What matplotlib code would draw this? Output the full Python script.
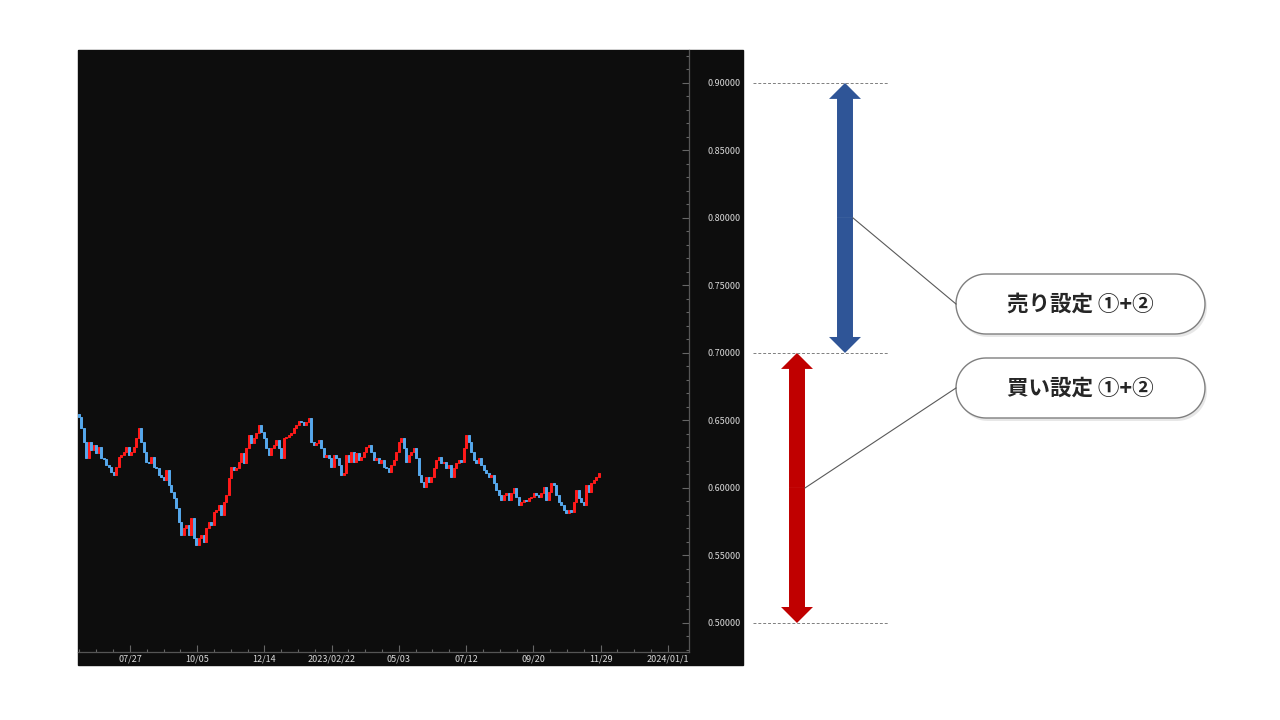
import numpy as np
import matplotlib
matplotlib.use("Agg")
import matplotlib.pyplot as plt
import matplotlib.dates as mdates
import matplotlib.transforms as mtransforms
from matplotlib.patches import FancyArrowPatch, Polygon, Rectangle, ArrowStyle
from matplotlib.ticker import MultipleLocator, FixedLocator, FixedFormatter
from datetime import datetime, timedelta

plt.rcParams['font.family'] = ['Noto Sans CJK JP', 'DejaVu Sans']

# ── Data (closes, evenly spaced in time) ──
first_date = datetime(2022, 6, 4)
last_date = datetime(2023, 11, 27)

closes = [
    0.6526, 0.6444, 0.6341, 0.6222, 0.6341, 0.6281, 0.6319, 0.6259, 0.6304, 0.6222,
    0.6215, 0.6170, 0.6156, 0.6119, 0.6096, 0.6156, 0.6230, 0.6244, 0.6267, 0.6304,
    0.6244, 0.6267, 0.6304, 0.6370, 0.6444, 0.6341, 0.6267, 0.6193, 0.6185, 0.6230,
    0.6156, 0.6148, 0.6096, 0.6081, 0.6059, 0.6133, 0.6022, 0.5970, 0.5926, 0.5852,
    0.5748, 0.5652, 0.5704, 0.5726, 0.5652, 0.5778, 0.5630, 0.5578, 0.5630, 0.5652,
    0.5600, 0.5704, 0.5748, 0.5726, 0.5822, 0.5837, 0.5874, 0.5800, 0.5896, 0.5948,
    0.6074, 0.6156, 0.6133, 0.6148, 0.6193, 0.6259, 0.6185, 0.6296, 0.6393, 0.6333,
    0.6370, 0.6407, 0.6467, 0.6415, 0.6370, 0.6296, 0.6244, 0.6296, 0.6319, 0.6356,
    0.6296, 0.6222, 0.6370, 0.6378, 0.6393, 0.6407, 0.6444, 0.6467, 0.6496, 0.6489,
    0.6467, 0.6489, 0.6519, 0.6341, 0.6319, 0.6333, 0.6356, 0.6296, 0.6230, 0.6244,
    0.6222, 0.6156, 0.6244,
    0.6222, 0.6170, 0.6096, 0.6111, 0.6244, 0.6193, 0.6267, 0.6193, 0.6259, 0.6207,
    0.6230, 0.6267, 0.6304, 0.6319, 0.6267, 0.6207, 0.6222, 0.6185, 0.6207, 0.6156,
    0.6150, 0.6119, 0.6170, 0.6207, 0.6267, 0.6341, 0.6370, 0.6296, 0.6193, 0.6244,
    0.6267, 0.6296, 0.6222, 0.6096, 0.6044, 0.6007, 0.6081, 0.6044, 0.6081, 0.6148,
    0.6207, 0.6230, 0.6185, 0.6193, 0.6148, 0.6170, 0.6081, 0.6148, 0.6185, 0.6207,
    0.6193, 0.6296, 0.6393,
    0.6341, 0.6267, 0.6207, 0.6185, 0.6222, 0.6170, 0.6133, 0.6111, 0.6081, 0.6096,
    0.6037, 0.5985, 0.5948, 0.5911, 0.5948, 0.5963, 0.5911, 0.5963, 0.6000, 0.5933,
    0.5874, 0.5896, 0.5911, 0.5905, 0.5926, 0.5933, 0.5963, 0.5948, 0.5933, 0.5963,
    0.6007, 0.5911, 0.5970, 0.6037, 0.6022, 0.5948, 0.5896, 0.5874, 0.5837, 0.5815,
    0.5837, 0.5822, 0.5896, 0.5985, 0.5926, 0.5896, 0.5874, 0.6022, 0.5970, 0.6037,
    0.6059, 0.6081, 0.6111,
]

tick_dates = [datetime(2022, 7, 27) + timedelta(days=70 * k) for k in range(9)]
tick_labels = ["07/27", "10/05", "12/14", "2023/02/22", "05/03",
               "07/12", "09/20", "11/29", "2024/01/1"]

levels = [0.90, 0.70, 0.50]   # sell range 0.70-0.90, buy range 0.50-0.70
callouts = ["売り設定 ①+②", "買い設定 ①+②"]

# ── Figure ────────────────────────────────────────────────
W, H = 1280, 720
fig = plt.figure(figsize=(12.8, 7.2), dpi=100)
fig.patch.set_facecolor("white")

dark = "#0d0d0d"
fig.patches.append(Rectangle((78 / W, 1 - 665 / H), 665 / W, 615 / H,
                             transform=fig.transFigure, color=dark, zorder=-5))

ax = fig.add_axes([78 / W, 1 - 652 / H, (689 - 78) / W, (652 - 50) / H])
ax.set_facecolor(dark)

# ── Candles ──────────────────────────────────────────────
xs = np.linspace(mdates.date2num(first_date), mdates.date2num(last_date), len(closes))
c = np.array(closes)
o = np.r_[c[0] + 0.002, c[:-1]]
up = c >= o
body = np.where(np.abs(c - o) < 0.0006, np.where(up, 0.0006, -0.0006), c - o)
cols = np.where(up, "#ff1a1a", "#56a8ec")
step = xs[1] - xs[0]
ax.bar(xs, body, bottom=o, width=step * 0.8, color=cols, edgecolor=cols,
       linewidth=0.7)

# ── Axes styling ─────────────────────────────────────────
ax.set_xlim(mdates.date2num(datetime(2022, 6, 3)), mdates.date2num(datetime(2024, 2, 29)))
ax.set_ylim(0.4785, 0.9244)

for s in ["top", "left"]:
    ax.spines[s].set_visible(False)
for s in ["bottom", "right"]:
    ax.spines[s].set_color("#555555")
    ax.spines[s].set_linewidth(0.9)

ax.yaxis.tick_right()
ax.yaxis.set_major_locator(MultipleLocator(0.05))
ax.yaxis.set_minor_locator(MultipleLocator(0.01))
ax.yaxis.set_major_formatter(plt.FormatStrFormatter("%.5f"))

xt = mdates.date2num(tick_dates)
ax.xaxis.set_major_locator(FixedLocator(xt))
ax.xaxis.set_major_formatter(FixedFormatter(tick_labels))
minor = np.arange(xt[0] - 70, xt[-1] + 1, 17.5)
ax.xaxis.set_minor_locator(FixedLocator(minor))

ax.tick_params(axis="both", which="both", direction="in", colors="#666666", width=0.8)
ax.tick_params(axis="both", which="major", length=5)
ax.tick_params(axis="both", which="minor", length=2.5)
ax.tick_params(axis="y", which="major", labelsize=6.5, labelcolor="#d9d9d9", pad=13)
ax.tick_params(axis="x", which="major", labelsize=6.5, labelcolor="#d9d9d9", pad=2)

# ── Overlay (pixel coordinates) for annotations ───────────
ov = fig.add_axes([0, 0, 1, 1], facecolor="none")
ov.set_xlim(0, W)
ov.set_ylim(H, 0)
ov.axis("off")

blend = mtransforms.blended_transform_factory(ov.transData, ax.transData)

for lv in levels:
    ov.plot([753, 888], [lv, lv], transform=blend, color="#7f7f7f",
            lw=0.7, ls=(0, (3, 2)), clip_on=False)

style = ArrowStyle.Simple(head_length=11.5, head_width=23, tail_width=11.5)


def double_arrow(x, lo, hi, color):
    mid = (lo + hi) / 2
    for end in (lo, hi):
        ov.add_patch(FancyArrowPatch((x, mid), (x, end), arrowstyle=style,
                                     transform=blend, color=color, lw=0,
                                     shrinkA=0, shrinkB=0, mutation_scale=1,
                                     clip_on=False))
    return mid


mid_sell = double_arrow(845, levels[1], levels[0], "#2f5597")
mid_buy = double_arrow(797, levels[2], levels[1], "#c00000")


def pill(x, y, w, h, **kw):
    r = h / 2
    t = np.linspace(-np.pi / 2, np.pi / 2, 40)
    right = np.c_[x + w - r + r * np.cos(t), y + r + r * np.sin(t)]
    left = np.c_[x + r - r * np.cos(t), y + r - r * np.sin(t)]
    return Polygon(np.r_[right, left], closed=True, **kw)


# ── Callouts ─────────────────────────────────────────────
boxes = [(956, 274), (956, 358)]
bw, bh = 249, 60
for (bx, by), txt, (ax_x, mid) in zip(boxes, callouts,
                                      [(853, mid_sell), (805, mid_buy)]):
    # leader line: arrow middle -> left edge of the pill
    y_px = H - ax.transData.transform((0, mid))[1]
    ov.plot([ax_x, bx], [y_px, by + bh / 2], color="#595959", lw=0.8)
    ov.add_patch(pill(bx + 2, by + 3, bw, bh, fc="#d8d8d8", ec="none", alpha=0.6))
    ov.add_patch(pill(bx, by, bw, bh, fc="white", ec="#7f7f7f", lw=1.0))
    ov.text(bx + bw / 2, by + bh / 2, txt, ha="center", va="center",
            fontsize=15.5, fontweight="bold", color="#262626")

fig.savefig("out.png", dpi=100)
